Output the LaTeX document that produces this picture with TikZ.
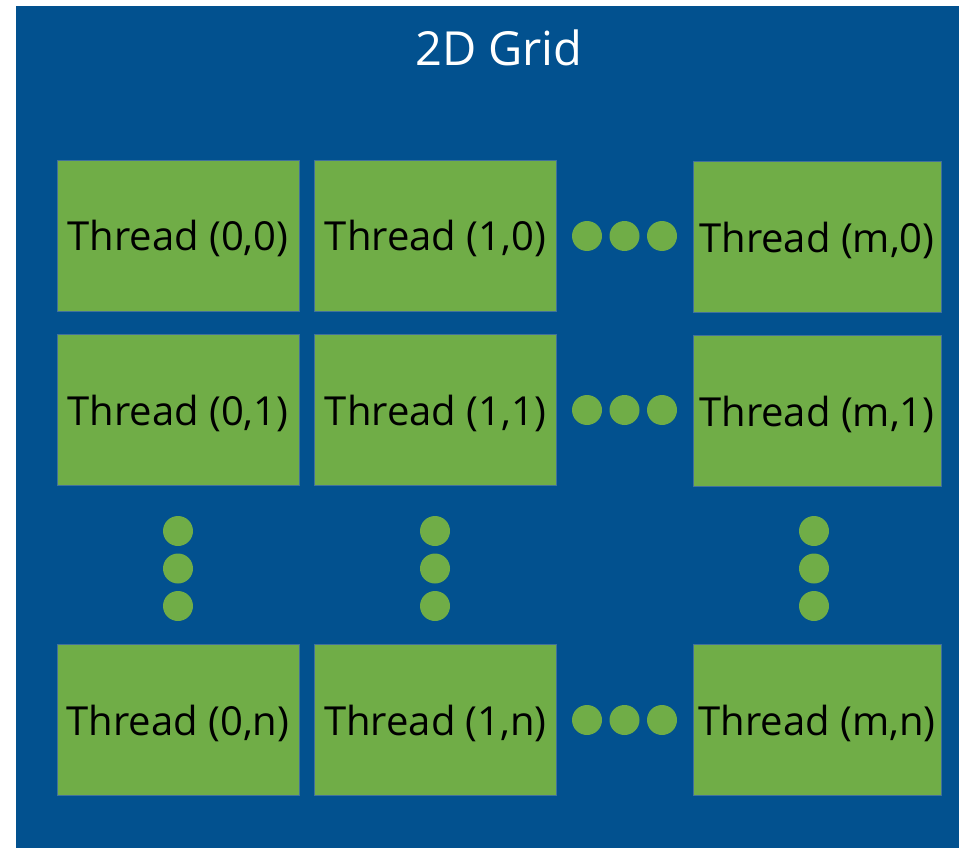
\documentclass[tikz,border=0pt]{standalone}
\usepackage{fontspec}
\setmainfont{Open Sans}
\usepackage{tikz}
\usetikzlibrary{positioning}

\definecolor{gridblue}{HTML}{02518F}
\definecolor{threadgreen}{HTML}{70AD47}
\definecolor{edgeblue}{HTML}{41719C}

\begin{document}
\begin{tikzpicture}[
    x=1pt, y=-1pt,
    thread/.style={rectangle, draw=edgeblue, line width=0.8pt, fill=threadgreen, minimum width=242pt, minimum height=151pt, inner sep=0pt, text depth=0pt, font=\fontsize{40}{48}\selectfont, text=black},
    wide/.style={thread, minimum width=248pt},
    dot/.style={circle, fill=threadgreen, minimum size=30pt, inner sep=0pt},
    title/.style={font=\fontsize{47}{56}\selectfont, text=white, text depth=0pt}
]
\useasboundingbox (0,0) rectangle (959,848);

% Grid background
\node[rectangle, fill=gridblue, minimum width=943pt, minimum height=842pt, inner sep=0pt] (grid) at (487.5,427) {};
\node[title] (gtitle) at (499,48) {2D Grid};

% Row 0
\node[thread] (t00) at (178,235.5) {Thread (0,0)};
\node[thread] (t10) at (435.5,235.5) {Thread (1,0)};
\node[wide] (tm0) at (817,237) {Thread (m,0)};

% Row 1
\node[thread] (t01) at (178,410) {Thread (0,1)};
\node[thread] (t11) at (435.5,410) {Thread (1,1)};
\node[wide] (tm1) at (817,411) {Thread (m,1)};

% Row n
\node[thread] (t0n) at (178,720) {Thread (0,n)};
\node[thread] (t1n) at (435.5,720) {Thread (1,n)};
\node[wide] (tmn) at (817,720) {Thread (m,n)};

% Horizontal dots
\foreach \r/\y in {0/236, 1/410, n/720} {
  \node[dot] (h\r a) at (587,\y) {};
  \node[dot] (h\r b) at (624.5,\y) {};
  \node[dot] (h\r c) at (662,\y) {};
}

% Vertical dots
\foreach \c/\x in {0/178, 1/435, m/814} {
  \node[dot] (v\c a) at (\x,531) {};
  \node[dot] (v\c b) at (\x,568.5) {};
  \node[dot] (v\c c) at (\x,606) {};
}

\end{tikzpicture}
\end{document}
